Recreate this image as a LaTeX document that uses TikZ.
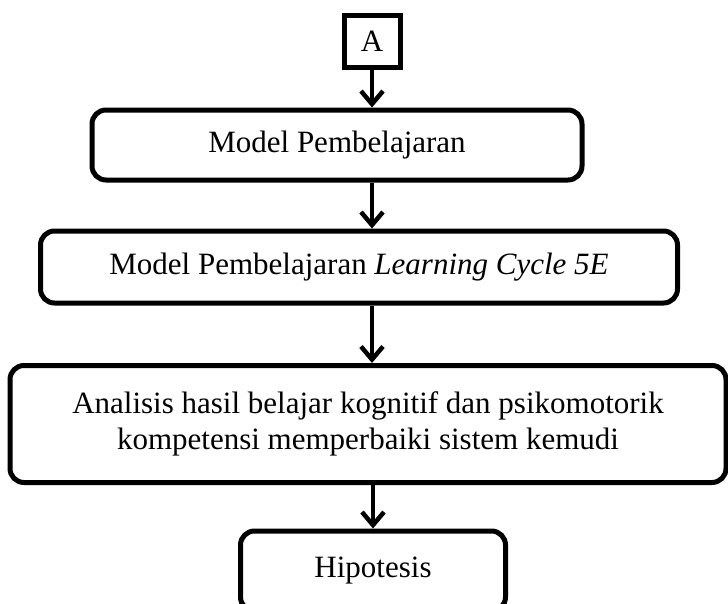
\documentclass[tikz,border=0pt]{standalone}
\usepackage{fontspec}
\setmainfont{Liberation Serif}
\usetikzlibrary{arrows.meta}
\begin{document}
\begin{tikzpicture}[x=1pt,y=-1pt,
  flowbox/.style={draw=black, line width=5pt, rounded corners=14pt, align=center,
    inner sep=0pt, font=\fontsize{31}{36}\selectfont},
  labelbox/.style={draw=black, line width=5pt, inner sep=0pt,
    font=\fontsize{31}{36}\selectfont},
  flowarrow/.style={line width=4.5pt, -{Straight Barb[length=13pt, width=22pt, line width=4.5pt]}}]
  \useasboundingbox (0,0) rectangle (728,603);

  % label box at the top
  \node[labelbox, minimum width=56pt, minimum height=52pt] (a) at (372,41) {A};
  % flow steps
  \node[flowbox, minimum width=490pt, minimum height=70pt] (m1) at (337,145) {Model Pembelajaran};
  \node[flowbox, minimum width=637pt, minimum height=72pt] (m2) at (359,267) {Model Pembelajaran \textit{Learning Cycle 5E}};
  \node[flowbox, minimum width=716pt, minimum height=117pt] (m3) at (368,424)
    {Analisis hasil belajar kognitif dan psikomotorik\\kompetensi memperbaiki sistem kemudi};
  \node[flowbox, minimum width=265pt, minimum height=80pt] (m4) at (373,571) {Hipotesis};

  % connectors
  \draw[flowarrow] (a.south) -- (a.south |- m1.north);
  \draw[flowarrow] (a.south |- m1.south) -- (a.south |- m2.north);
  \draw[flowarrow] (a.south |- m2.south) -- (a.south |- m3.north);
  \draw[flowarrow] (m4.north |- m3.south) -- (m4.north);
\end{tikzpicture}
\end{document}
